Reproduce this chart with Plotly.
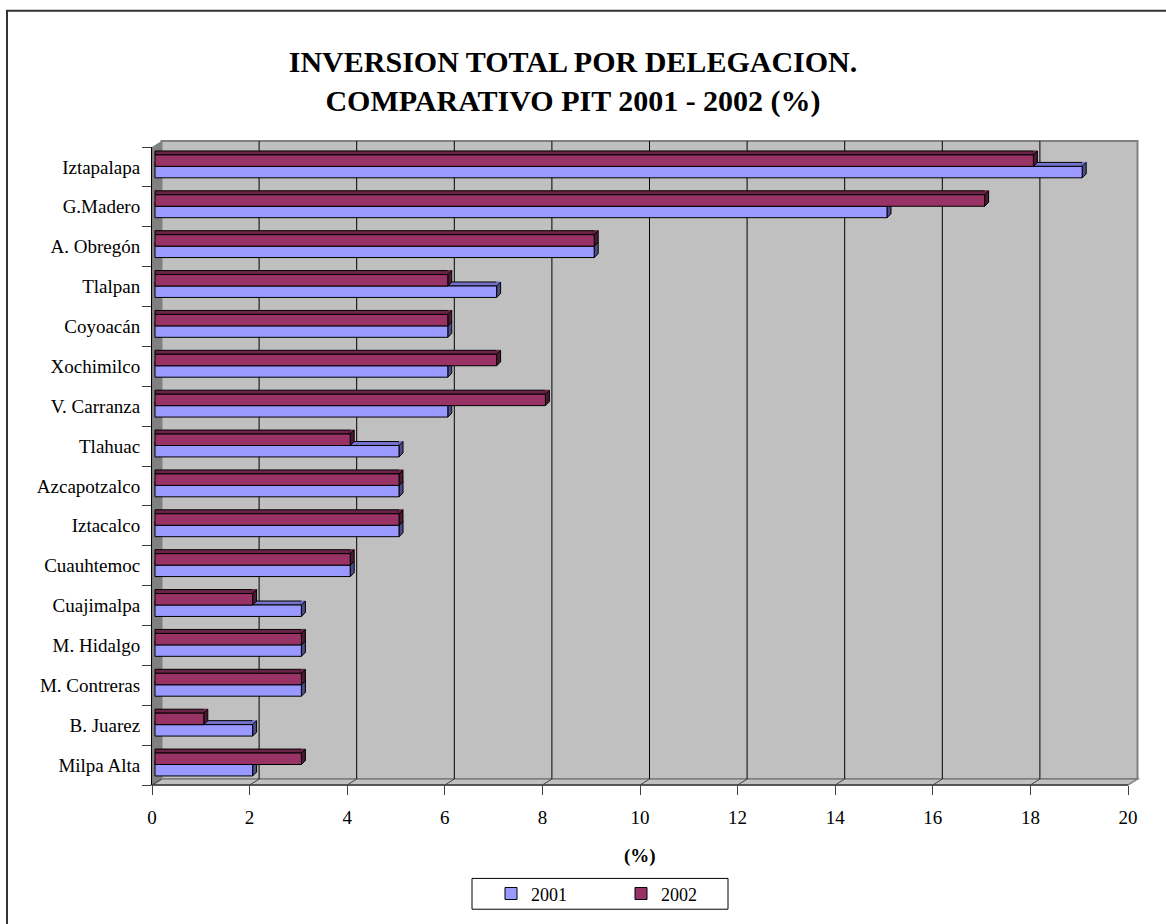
import plotly.graph_objects as go

# ---- data -------------------------------------------------------------
delegaciones = [
    "Iztapalapa", "G.Madero", "A. Obregón", "Tlalpan", "Coyoacán",
    "Xochimilco", "V. Carranza", "Tlahuac", "Azcapotzalco", "Iztacalco",
    "Cuauhtemoc", "Cuajimalpa", "M. Hidalgo", "M. Contreras", "B. Juarez",
    "Milpa Alta",
]
inv_2001 = [19, 15, 9, 7, 6, 6, 6, 5, 5, 5, 4, 3, 3, 3, 2, 2]
inv_2002 = [18, 17, 9, 6, 6, 7, 8, 4, 5, 5, 4, 2, 3, 3, 1, 3]
series_names = ["2001", "2002"]
x_tick_values = [0, 2, 4, 6, 8, 10, 12, 14, 16, 18, 20]

title_text = "INVERSION TOTAL POR DELEGACION.<br>COMPARATIVO PIT 2001 - 2002 (%)"
x_title = "(%)"

# ---- geometry (pixels) -------------------------------------------------
W, H = 1166, 924
L, R, T, B = 152, 38, 147, 135
PW, PH = W - L - R, H - T - B
BOTTOM = H - B
X_MAX = 20
PPU = PW / X_MAX              # pixels per axis unit
DX, DY = 9.5, 6               # depth of the 3-D walls
BAR_SHIFT = 3                 # bars sit slightly inside the floor depth
BAR_W = 0.287                 # bar thickness in category units
BAR_OFFSET = {"2001": -0.273, "2002": 0.014}
BAR_H = BAR_W * PH / len(delegaciones)
D = 4                         # depth of each bar

FONT = "Liberation Serif"
WALL = "#C0C0C0"
WALL_DARK = "#808080"
STYLE = {
    "2001": dict(front="#9999FF", top="#7373CC", side="#4C4C88"),
    "2002": dict(front="#993366", top="#6B2347", side="#4C1933"),
}


def px_x(p):
    return (p - L) / PW


def px_y(p):
    return (BOTTOM - p) / PH


fl, fr, ft, fb = L, L + PW, T, BOTTOM            # front plane
bl, br, bt, bb = fl + DX, fr + DX, ft - DY, fb - DY  # back plane

shapes = []

# outer chart frame
shapes.append(dict(type="rect", xref="paper", yref="paper",
                   x0=px_x(7), x1=px_x(1300), y0=px_y(10), y1=px_y(1100),
                   line=dict(color="#333333", width=2), fillcolor="rgba(0,0,0,0)",
                   layer="below"))

# back wall
shapes.append(dict(type="rect", xref="paper", yref="paper",
                   x0=px_x(bl), x1=px_x(br), y0=px_y(bb), y1=px_y(bt),
                   fillcolor=WALL, line=dict(color=WALL_DARK, width=2), layer="below"))


def poly(points):
    return "M " + " L ".join(f"{px_x(x):.5f},{px_y(y):.5f}" for x, y in points) + " Z"


# side wall
shapes.append(dict(type="path", xref="paper", yref="paper",
                   path=poly([(fl, ft), (bl, bt), (bl, bb), (fl, fb)]),
                   fillcolor=WALL_DARK, line=dict(width=0), layer="below"))
# floor
shapes.append(dict(type="path", xref="paper", yref="paper",
                   path=poly([(fl, fb), (bl, bb), (br, bb), (fr, fb)]),
                   fillcolor=WALL, line=dict(color=WALL_DARK, width=1.5), layer="below"))
# front edge of the floor
shapes.append(dict(type="line", xref="paper", yref="paper",
                   x0=px_x(fl), x1=px_x(fr), y0=px_y(fb), y1=px_y(fb),
                   line=dict(color="#404040", width=1.5), layer="below"))

# gridlines on the back wall and their diagonals across the floor
for k in x_tick_values:
    if 0 < k < X_MAX:
        shapes.append(dict(type="line", xref="x", yref="paper", xsizemode="pixel",
                           xanchor=k, x0=DX, x1=DX, y0=px_y(bb), y1=px_y(bt),
                           line=dict(color="black", width=1), layer="below"))
    shapes.append(dict(type="line", xref="x", yref="paper", xsizemode="pixel",
                       xanchor=k, x0=0, x1=DX, y0=px_y(fb), y1=px_y(bb),
                       line=dict(color="#404040", width=1), layer="below"))

# 3-D faces of the bars (top face and end cap)
cat_order = delegaciones[::-1]
cat_pos = {c: i for i, c in enumerate(cat_order)}
for name, values in zip(series_names, [inv_2001, inv_2002]):
    st = STYLE[name]
    for cat, v in zip(delegaciones, values):
        y_top = cat_pos[cat] + BAR_OFFSET[name] + BAR_W
        shapes.append(dict(type="rect", xref="x2", yref="y", x0=0, x1=v,
                           ysizemode="pixel", yanchor=y_top, y0=0, y1=D,
                           fillcolor=st["top"], line=dict(color="black", width=1),
                           layer="below"))
        shapes.append(dict(type="path", xref="x2", yref="y",
                           xsizemode="pixel", xanchor=v,
                           ysizemode="pixel", yanchor=y_top,
                           path=f"M0,0 L0,{D} L{D},{D} Z",
                           fillcolor=st["top"], line=dict(color=st["top"], width=1),
                           layer="below"))
        shapes.append(dict(type="path", xref="x2", yref="y",
                           xsizemode="pixel", xanchor=v,
                           ysizemode="pixel", yanchor=y_top,
                           path=f"M0,0 L{D},{D} L{D},{D - BAR_H:.2f} L0,{-BAR_H:.2f} Z",
                           fillcolor=st["side"], line=dict(color="black", width=1),
                           layer="below"))

# legend frame
shapes.append(dict(type="rect", xref="paper", yref="paper",
                   x0=px_x(472), x1=px_x(728), y0=px_y(914), y1=px_y(883),
                   line=dict(color="black", width=1), fillcolor="white", layer="below"))

# ---- traces -------------------------------------------------------------
fig = go.Figure()
for name, values in zip(series_names, [inv_2001, inv_2002]):
    fig.add_trace(go.Bar(
        name=name, y=delegaciones, x=values, orientation="h",
        xaxis="x2", yaxis="y",
        width=BAR_W, offset=BAR_OFFSET[name],
        marker=dict(color=STYLE[name]["front"], line=dict(color="black", width=1)),
    ))

fig.update_layout(
    width=W, height=H,
    margin=dict(l=L, r=R, t=T, b=B, pad=0),
    paper_bgcolor="white", plot_bgcolor="white",
    font=dict(family=FONT, size=18, color="black"),
    barmode="overlay",
    shapes=shapes,
    showlegend=True,
    legend=dict(orientation="h", x=px_x(491), xanchor="left",
                y=px_y(898.5), yanchor="middle",
                font=dict(family=FONT, size=18),
                bgcolor="rgba(0,0,0,0)", borderwidth=0,
                entrywidth=85, entrywidthmode="pixels", traceorder="normal"),
    title=dict(text=title_text, x=573 / W, xanchor="center", xref="container",
               y=1 - 72 / H, yanchor="middle", yref="container",
               font=dict(family=FONT, size=30, weight="bold", color="black")),
    xaxis=dict(range=[0, X_MAX], tickvals=x_tick_values, showgrid=False,
               zeroline=False, showline=False, ticks="outside", ticklen=9,
               tickcolor="#404040", tickwidth=1, ticklabelstandoff=6,
               tickfont=dict(family=FONT, size=19), fixedrange=True),
    xaxis2=dict(range=[-BAR_SHIFT / PPU, X_MAX - BAR_SHIFT / PPU], overlaying="x",
                anchor="y", visible=False, fixedrange=True),
    yaxis=dict(type="category", categoryorder="array", categoryarray=cat_order,
               range=[-0.5, len(delegaciones) - 0.5], showgrid=False,
               zeroline=False, showline=True, linecolor="black", linewidth=1,
               ticks="outside", tickson="boundaries", ticklen=9,
               tickcolor="#404040", tickfont=dict(family=FONT, size=19),
               ticklabelstandoff=7, fixedrange=True),
    annotations=[dict(text=f"<b>{x_title}</b>", xref="paper", yref="paper",
                      x=px_x(640), y=px_y(860), xanchor="center", yanchor="middle",
                      showarrow=False, font=dict(family=FONT, size=19))],
)

fig.write_html("out.html")
